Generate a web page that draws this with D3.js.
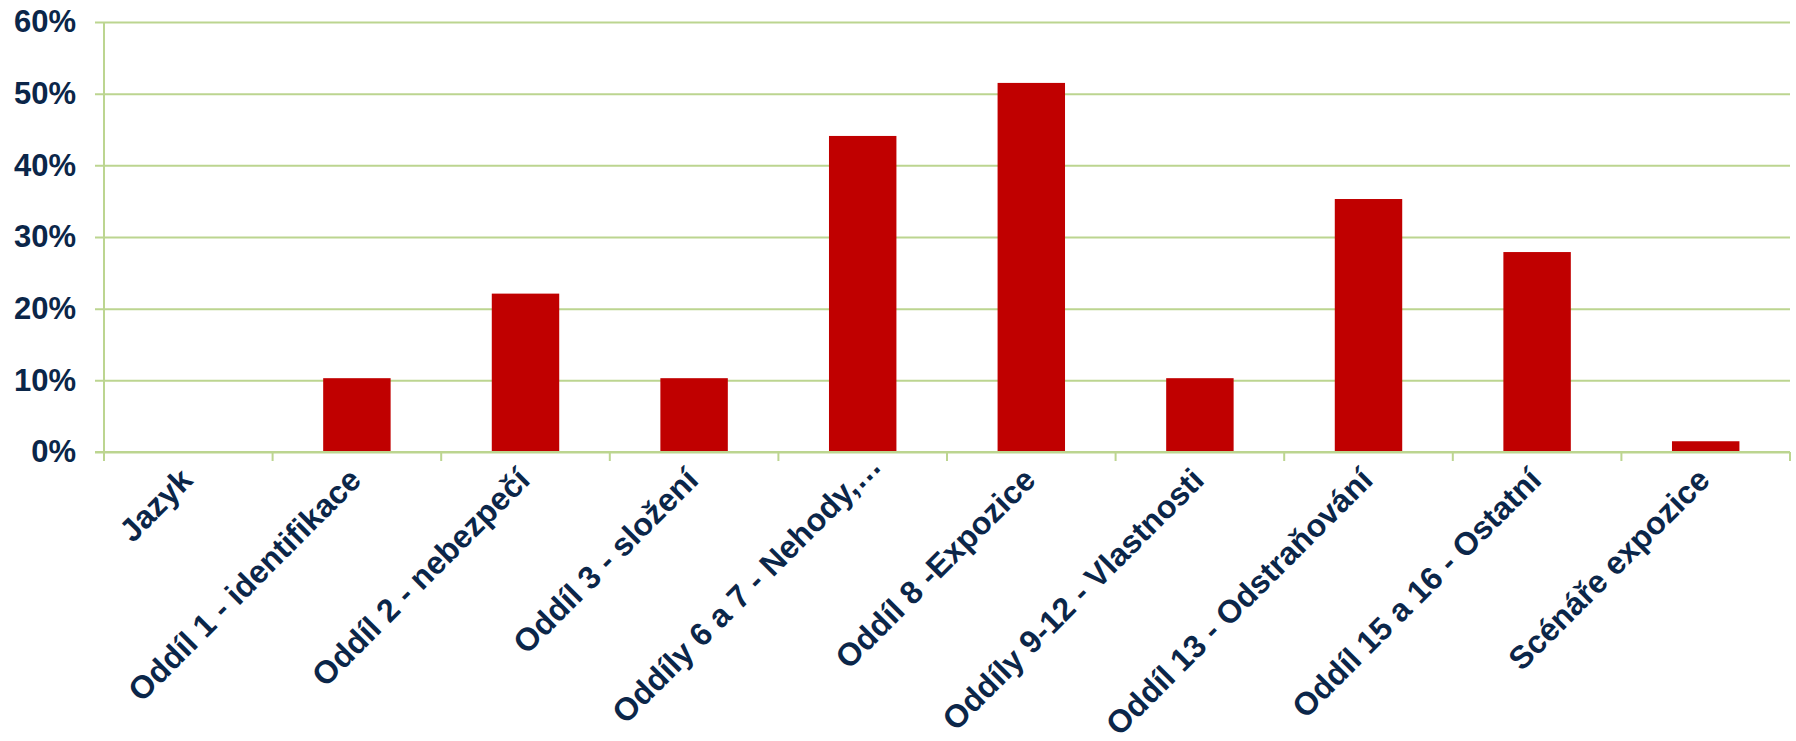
<!DOCTYPE html>
<html lang="cs">
<head>
<meta charset="UTF-8">
<title>Oddíly</title>
<script src="https://d3js.org/d3.v7.min.js"></script>
<style>
  body { margin: 0; padding: 0; background: #ffffff; }
  svg { display: block; font-family: "Liberation Sans", Arial, sans-serif; }
</style>
</head>
<body>
<script>
// data
var categories = ["Jazyk", "Oddíl 1 - identifikace", "Oddíl 2 - nebezpečí", "Oddíl 3 - složení",
  "Oddíly 6 a 7 - Nehody,…", "Oddíl 8 -Expozice", "Oddíly 9-12 - Vlastnosti",
  "Oddíl 13 - Odstraňování", "Oddíl 15 a 16 - Ostatní", "Scénáře expozice"];
var values = [0, 10.3, 22.1, 10.3, 44.1, 51.5, 10.3, 35.3, 27.9, 1.5];
var yTicks = [0, 10, 20, 30, 40, 50, 60];

var width = 1796, height = 741;
var margin = { top: 22, right: 6, bottom: 289, left: 104 };
var textColor = "#0b2649", gridColor = "#bcd590", barColor = "#c00000";

var svg = d3.select("body").append("svg")
  .attr("width", width)
  .attr("height", height);

var x = d3.scaleBand()
  .domain(categories)
  .range([margin.left, width - margin.right]);

var xBar = d3.scaleBand()
  .domain(categories)
  .range(x.range())
  .paddingInner(0.6)
  .paddingOuter(0.3);

var y = d3.scaleLinear()
  .domain([0, 60])
  .range([height - margin.bottom, margin.top]);

// gridlines + y labels
var yAxis = svg.append("g")
  .attr("transform", "translate(" + margin.left + ",0)")
  .call(d3.axisLeft(y).tickValues(yTicks).tickSize(-(width - margin.right - margin.left)).tickSizeOuter(0)
    .tickFormat(function (d) { return d + "%"; }));
yAxis.select(".domain").remove();
yAxis.selectAll(".tick line")
  .attr("x1", -9)
  .attr("stroke", gridColor)
  .attr("stroke-width", 2);
yAxis.selectAll(".tick text")
  .attr("x", -28)
  .attr("fill", textColor)
  .attr("font-size", 31)
  .attr("font-weight", "bold")
  .attr("font-family", "'Liberation Sans', Arial, sans-serif");

// vertical axis line
svg.append("line")
  .attr("x1", margin.left).attr("x2", margin.left)
  .attr("y1", y(60)).attr("y2", y(0) + 9)
  .attr("stroke", gridColor).attr("stroke-width", 2);

// bars
svg.selectAll(".bar")
  .data(values)
  .enter().append("rect")
  .attr("class", "bar")
  .attr("x", function (d, i) { return xBar(categories[i]); })
  .attr("width", xBar.bandwidth())
  .attr("y", function (d) { return y(d); })
  .attr("height", function (d) { return y(0) - y(d); })
  .attr("fill", barColor);

// x axis baseline + ticks at band boundaries
var xg = svg.append("g");
xg.append("line")
  .attr("x1", margin.left - 9).attr("x2", width - margin.right)
  .attr("y1", y(0)).attr("y2", y(0))
  .attr("stroke", gridColor).attr("stroke-width", 2);
var bounds = categories.map(function (c) { return x(c) + x.bandwidth(); });
xg.selectAll(".xtick")
  .data(bounds)
  .enter().append("line")
  .attr("x1", function (d) { return d; }).attr("x2", function (d) { return d; })
  .attr("y1", y(0)).attr("y2", y(0) + 9)
  .attr("stroke", gridColor).attr("stroke-width", 2);

// rotated category labels (the truncated one sits a little further out, as in the original)
xg.selectAll(".xlabel")
  .data(categories)
  .enter().append("text")
  .attr("class", "xlabel")
  .attr("transform", function (d) {
    return "translate(" + (x(d) + x.bandwidth() / 2 + 6) + "," + (y(0) + 30) + ") rotate(-45)";
  })
  .attr("dx", function (d) { return d.slice(-1) === "…" ? 20 : 0; })
  .attr("text-anchor", "end")
  .attr("fill", textColor)
  .attr("font-size", 32)
  .attr("font-weight", "bold")
  .text(function (d) { return d; });
</script>
</body>
</html>
